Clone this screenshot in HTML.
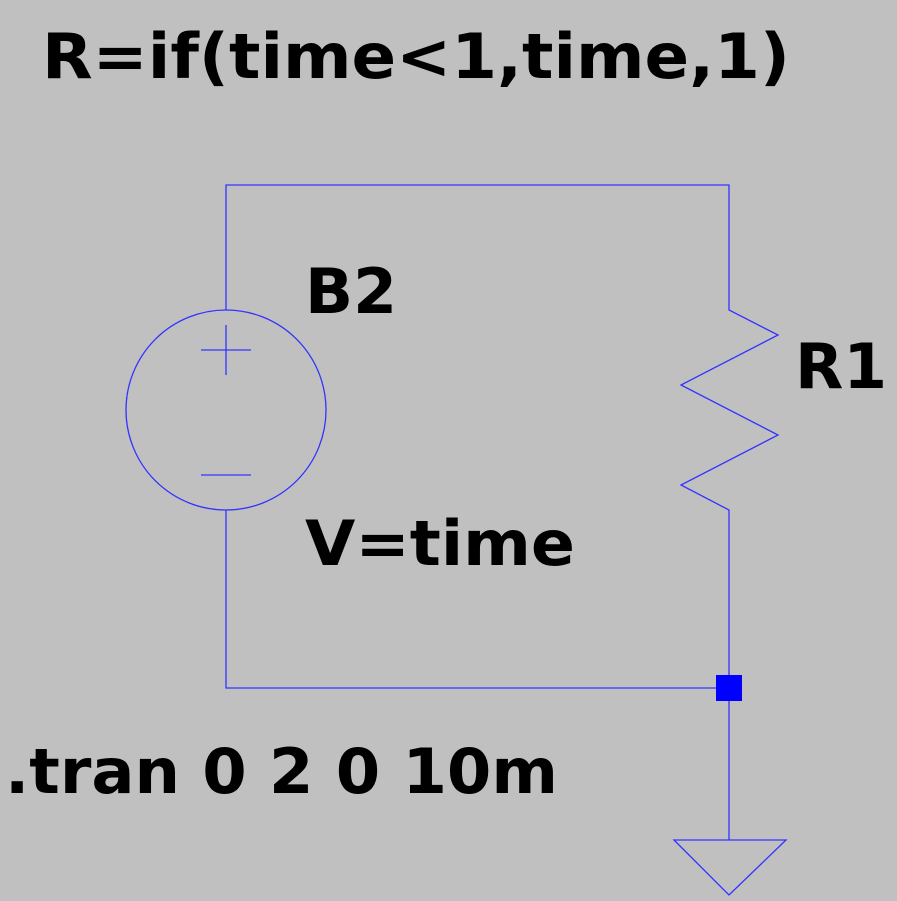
<!DOCTYPE html>
<html><head><style>html,body{margin:0;padding:0;background:#c0c0c0;}svg{display:block;}</style></head>
<body>
<svg width="897" height="901" viewBox="0 0 897 901" xmlns="http://www.w3.org/2000/svg">
<rect width="897" height="901" fill="#c0c0c0"/>
<g stroke="#3333ff" stroke-width="1.3" fill="none">
<polyline points="226,310 226,185 729,185 729,310 778,335 681,385 778,435 681,485 729,510 729,840"/>
<polyline points="226,510 226,688 729,688"/>
<circle cx="226" cy="410" r="100"/>
<line x1="201" y1="350" x2="251" y2="350"/>
<line x1="226" y1="325" x2="226" y2="375"/>
<line x1="201" y1="475" x2="251" y2="475"/>
<polygon points="674,840 786,840 729,895"/>
</g>
<rect x="716" y="675" width="26" height="26" fill="#0000ff"/>
<g font-family="DejaVu Sans, Liberation Sans, sans-serif" font-weight="bold" fill="#000" font-size="62">
<text x="42" y="78" textLength="748" lengthAdjust="spacingAndGlyphs">R=if(time&lt;1,time,1)</text>
<text x="305" y="313" textLength="92" lengthAdjust="spacingAndGlyphs">B2</text>
<text x="795" y="388" textLength="92" lengthAdjust="spacingAndGlyphs">R1</text>
<text x="305" y="565" textLength="270" lengthAdjust="spacingAndGlyphs">V=time</text>
<text x="5" y="793" textLength="553" lengthAdjust="spacingAndGlyphs">.tran 0 2 0 10m</text>
</g>
</svg>
</body></html>
